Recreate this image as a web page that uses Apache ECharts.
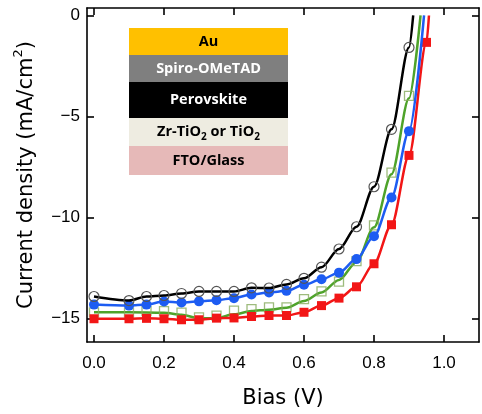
<!DOCTYPE html>
<html>
<head>
<meta charset="utf-8">
<script src="https://cdn.jsdelivr.net/npm/echarts@6/dist/echarts.min.js"></script>
<style>
  html, body { margin: 0; padding: 0; background: #fff; }
  #chart { width: 482px; height: 414px; }
</style>
</head>
<body>
<div id="chart"></div>
<script>
// J–V curves of perovskite cells (bias in V, current density in mA/cm²)
const biasV = [0, 0.1, 0.15, 0.2, 0.25, 0.3, 0.35, 0.4, 0.45, 0.5, 0.55, 0.6, 0.65, 0.7, 0.75, 0.8, 0.85, 0.9];
const biasVRed = [0, 0.1, 0.15, 0.2, 0.25, 0.3, 0.35, 0.4, 0.45, 0.5, 0.55, 0.6, 0.65, 0.7, 0.75, 0.8, 0.85, 0.9, 0.95];

const jBlack = [-13.9, -14.1, -13.9, -13.85, -13.75, -13.65, -13.65, -13.65, -13.47, -13.48, -13.3, -13.0, -12.45, -11.55, -10.45, -8.47, -5.63, -1.58];
const jBlue  = [-14.3, -14.35, -14.3, -14.15, -14.2, -14.14, -14.08, -13.98, -13.8, -13.7, -13.62, -13.32, -13.05, -12.72, -12.05, -10.92, -9.0, -5.72];
const jGreen = [-14.68, -14.7, -14.62, -14.62, -14.7, -14.93, -14.85, -14.6, -14.52, -14.44, -14.44, -14.03, -13.65, -13.16, -12.15, -10.38, -7.77, -3.98];
const jRed   = [-15.0, -15.0, -14.98, -15.0, -15.05, -15.05, -14.97, -14.96, -14.89, -14.84, -14.84, -14.68, -14.35, -13.98, -13.42, -12.28, -10.35, -6.92, -1.33];

// fitted curve through the green squares
const greenFitV = [0, 0.1, 0.2, 0.25, 0.3, 0.35, 0.4, 0.45, 0.5, 0.55, 0.6, 0.65, 0.7, 0.75, 0.8, 0.85, 0.9, 0.933];
const greenFitJ = [-14.68, -14.68, -14.7, -14.8, -14.97, -14.97, -14.78, -14.62, -14.55, -14.46, -14.12, -13.7, -13.08, -12.2, -10.48, -7.85, -4.1, 0];

// open-circuit voltages where each curve reaches 0
const vocBlack = 0.912;
const vocBlue = 0.943;
const vocRed = 0.957;

const xTicks = [0, 0.2, 0.4, 0.6, 0.8, 1.0];
const yTicks = [-15, -10, -5, 0];

const layers = ['Au', 'Spiro-OMeTAD', 'Perovskite', 'Zr-TiO{sub|2} or TiO{sub|2}', 'FTO/Glass'];

function pairs(xs, ys, voc) {
  const d = xs.map((v, i) => [v, ys[i]]);
  if (voc !== undefined) d.push({ value: [voc, 0], symbol: 'none' });
  return d;
}

const axisFont = 'Liberation Sans, Arial, sans-serif';
const nameFont = 'DejaVu Sans, sans-serif';

const commonX = {
  type: 'value', min: -0.02, max: 1.1,
  axisLine: { show: true, onZero: false, lineStyle: { color: '#000', width: 1.6 } },
  axisTick: { show: true, inside: true, length: 7, customValues: xTicks, lineStyle: { color: '#000', width: 1.6 } },
  splitLine: { show: false }
};
const commonY = {
  type: 'value', min: -16.15, max: 0.37,
  axisLine: { show: true, onZero: false, lineStyle: { color: '#000', width: 1.6 } },
  axisTick: { show: true, inside: true, length: 7, customValues: yTicks, lineStyle: { color: '#000', width: 1.6 } },
  splitLine: { show: false }
};

const chart = echarts.init(document.getElementById('chart'), null, { renderer: 'canvas' });

const boxX = 129, boxW = 159;
const rows = [
  { y: 28, h: 27, fill: '#ffc000', color: '#000' },
  { y: 55, h: 27, fill: '#7f7f7f', color: '#fff' },
  { y: 82, h: 36, fill: '#000000', color: '#fff' },
  { y: 118, h: 28, fill: '#eeece1', color: '#000' },
  { y: 146, h: 29, fill: '#e6b9b8', color: '#000' }
];
const graphics = [];
rows.forEach((r, i) => {
  graphics.push({
    type: 'rect', left: boxX, top: r.y, z: 10,
    shape: { width: boxW, height: r.h },
    style: { fill: r.fill }
  });
  graphics.push({
    type: 'text', z: 11,
    x: boxX + boxW / 2, y: r.y + r.h / 2,
    style: {
      text: layers[i], fill: r.color,
      fontSize: 14.5, fontWeight: 'bold', fontFamily: 'Open Sans, sans-serif',
      align: 'center', verticalAlign: 'middle', lineHeight: 20,
      rich: { sub: { fontSize: 10, fontWeight: 'bold', fontFamily: 'Open Sans, sans-serif', fill: r.color, verticalAlign: 'bottom', lineHeight: 14 } }
    }
  });
});

chart.setOption({
  animation: false,
  backgroundColor: '#fff',
  grid: { left: 87, right: 3, top: 8, bottom: 69, containLabel: false },
  xAxis: [
    Object.assign({}, commonX, {
      position: 'bottom',
      axisLabel: { customValues: xTicks, formatter: v => v.toFixed(1), fontSize: 17, color: '#000', margin: 13, fontFamily: axisFont },
      name: 'Bias (V)', nameLocation: 'middle', nameGap: 46,
      nameTextStyle: { fontSize: 21, color: '#000', fontFamily: nameFont }
    }),
    Object.assign({}, commonX, { position: 'top', axisLabel: { show: false } })
  ],
  yAxis: [
    Object.assign({}, commonY, {
      position: 'left',
      axisLabel: { customValues: yTicks, formatter: v => String(v).replace('-', '\u2212'), fontSize: 17, color: '#000', margin: 7, fontFamily: axisFont },
      name: 'Current density (mA/cm{sup|2})', nameLocation: 'middle', nameGap: 43,
      nameTextStyle: {
        fontSize: 21, color: '#000', fontFamily: nameFont, lineHeight: 28,
        rich: { sup: { fontSize: 13, fontFamily: nameFont, color: '#000', verticalAlign: 'top', lineHeight: 13 } }
      }
    }),
    Object.assign({}, commonY, { position: 'right', axisLabel: { show: false } })
  ],
  graphic: graphics,
  series: [
    {
      type: 'line', name: 'green fit', data: pairs(greenFitV, greenFitJ),
      showSymbol: false, symbol: 'none', smooth: 0.3, smoothMonotone: 'x',
      lineStyle: { color: '#4ea32a', width: 2.5 }, z: 2
    },
    {
      type: 'scatter', name: 'green', data: pairs(biasV, jGreen),
      symbol: 'rect', symbolSize: 9,
      itemStyle: { color: 'rgba(0,0,0,0)', borderColor: '#86aa5c', borderWidth: 1.3 }, z: 3
    },
    {
      type: 'line', name: 'red', data: pairs(biasVRed, jRed, vocRed),
      symbol: 'rect', symbolSize: 9, smooth: 0.3, smoothMonotone: 'x',
      lineStyle: { color: '#f21616', width: 2.5 },
      itemStyle: { color: '#f21616' }, z: 4
    },
    {
      type: 'line', name: 'blue', data: pairs(biasV, jBlue, vocBlue),
      symbol: 'circle', symbolSize: 10, smooth: 0.3, smoothMonotone: 'x',
      lineStyle: { color: '#1d5cf2', width: 2.5 },
      itemStyle: { color: '#1d5cf2' }, z: 5
    },
    {
      type: 'line', name: 'black', data: pairs(biasV, jBlack, vocBlack),
      symbol: 'circle', symbolSize: 10, smooth: 0.3, smoothMonotone: 'x',
      lineStyle: { color: '#000', width: 2.5 },
      itemStyle: { color: 'rgba(0,0,0,0)', borderColor: '#555', borderWidth: 1.2 }, z: 6
    }
  ]
});
</script>
</body>
</html>
